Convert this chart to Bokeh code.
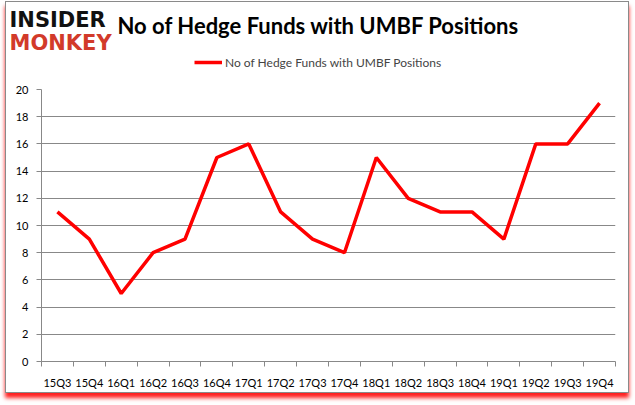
from bokeh.plotting import figure
from bokeh.layouts import column
from bokeh.models import FixedTicker, Label, Legend, LegendItem, Range1d
from bokeh.embed import file_html
from bokeh.resources import INLINE

quarters = ["15Q3", "15Q4", "16Q1", "16Q2", "16Q3", "16Q4", "17Q1", "17Q2", "17Q3",
            "17Q4", "18Q1", "18Q2", "18Q3", "18Q4", "19Q1", "19Q2", "19Q3", "19Q4"]
funds = [11, 9, 5, 8, 9, 15, 16, 11, 9, 8, 15, 12, 11, 11, 9, 16, 16, 19]
y_ticks = [0, 2, 4, 6, 8, 10, 12, 14, 16, 18, 20]
series_name = "No of Hedge Funds with UMBF Positions"
title_text = "No of Hedge Funds with UMBF Positions"

W = 622
HH = 70   # header height
HM = 320  # main chart height

LINE_COLOR = "#ff0000"
LINE_WIDTH = 3.5

# ---- header: logo, title, legend ----
hdr = figure(width=W, height=HH, output_backend="svg", toolbar_location=None,
             x_range=Range1d(0, W), y_range=Range1d(HH, 0),
             x_axis_type=None, y_axis_type=None,
             min_border=0, min_border_left=0, min_border_right=0,
             min_border_top=0, min_border_bottom=0)
hdr.grid.visible = False
hdr.outline_line_color = None
hdr.background_fill_color = "white"
hdr.border_fill_color = "white"

dummy = hdr.line(x=[-100, -90], y=[-100, -100], line_color=LINE_COLOR, line_width=LINE_WIDTH)
legend = Legend(items=[LegendItem(label=series_name, renderers=[dummy])],
                location=(188, 0), orientation="horizontal",
                label_text_font="Lato", label_text_font_size="12px",
                border_line_color=None, background_fill_alpha=0,
                glyph_width=28, label_standoff=3, padding=0, margin=0)
hdr.add_layout(legend, "center")

hdr.add_layout(Label(x=111, y=23, text=title_text,
                     text_font="Lato", text_font_size="22px", text_font_style="bold",
                     text_color="#000000", text_baseline="middle"))
hdr.add_layout(Label(x=3, y=17, text="INSIDER",
                     text_font="DejaVu Sans", text_font_size="21px", text_font_style="bold",
                     text_color="#111111", text_baseline="middle"))
hdr.add_layout(Label(x=3, y=40, text="MONKEY",
                     text_font="DejaVu Sans", text_font_size="21px", text_font_style="bold",
                     text_color="#d23a2a", text_baseline="middle"))

# ---- main chart ----
p = figure(width=W, height=HM, output_backend="svg", toolbar_location=None,
           x_range=Range1d(0, len(quarters)), y_range=Range1d(0, 20),
           min_border_left=35, min_border_right=13, min_border_top=17, min_border_bottom=31)

xs = [i + 0.5 for i in range(len(quarters))]
p.line(xs, funds, line_color=LINE_COLOR, line_width=LINE_WIDTH)

p.xaxis.ticker = FixedTicker(ticks=xs, minor_ticks=list(range(len(quarters) + 1)))
p.xaxis.major_label_overrides = {x: q for x, q in zip(xs, quarters)}
p.xaxis.minor_tick_line_color = "#888888"
p.xaxis.minor_tick_in = 0
p.xaxis.minor_tick_out = 5
p.yaxis.ticker = FixedTicker(ticks=y_ticks)
p.yaxis.minor_tick_line_color = None
p.yaxis.major_tick_in = 0
p.yaxis.major_tick_out = 5
for ax in (p.xaxis, p.yaxis):
    ax.axis_line_color = "#888888"
    ax.major_label_text_font = "Lato"
    ax.major_label_text_font_size = "11px"
    ax.major_label_text_color = "#000000"
p.yaxis.major_tick_line_color = "#888888"
p.xaxis.major_tick_line_color = None
p.xaxis.major_label_standoff = 8
p.yaxis.major_label_standoff = 8

p.xgrid.grid_line_color = None
p.ygrid.grid_line_color = "#888888"
p.ygrid.grid_line_width = 1
p.outline_line_color = None

try:
    hdr.frame_align = False
    p.frame_align = False
except Exception:
    pass

layout = column(hdr, p, spacing=0)
layout.styles = {"border": "1px solid #8a8a8a", "box-shadow": "0px 5px 4px #ff2020",
                 "background-color": "white", "margin-left": "5px", "margin-top": "1px"}

open("out.html", "w").write(file_html(layout, INLINE))
